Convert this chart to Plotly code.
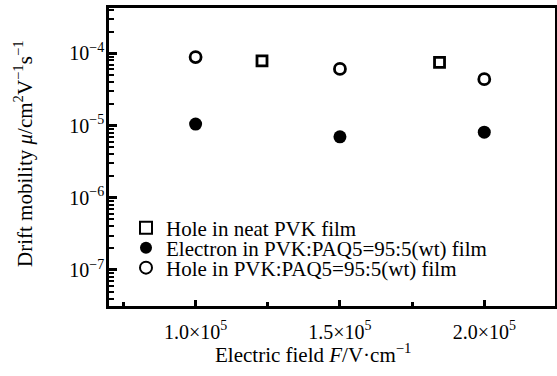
import plotly.graph_objects as go

# Data
field_hole_neat = [1.23e5, 1.845e5]
mob_hole_neat = [7.9e-5, 7.5e-5]

field_electron = [1.0e5, 1.5e5, 2.0e5]
mob_electron = [1.05e-5, 7.0e-6, 8.1e-6]

field_hole_blend = [1.0e5, 1.5e5, 2.0e5]
mob_hole_blend = [8.9e-5, 6.1e-5, 4.4e-5]

x_tickvals = [1.0e5, 1.5e5, 2.0e5]
x_ticktext = ["1.0×10<sup>5</sup>", "1.5×10<sup>5</sup>", "2.0×10<sup>5</sup>"]
y_tickvals = [1e-4, 1e-5, 1e-6, 1e-7]
y_ticktext = ["10<sup>−4</sup>", "10<sup>−5</sup>", "10<sup>−6</sup>", "10<sup>−7</sup>"]

FONT = "Liberation Serif"

FW, FH = 557, 376
L, R, T, B = 109, 555, 8, 306  # plot area in screen pixels
W, H = R - L, B - T

def px_x(x):
    return (x - L) / W

def px_y(y):
    return (B - y) / H

fig = go.Figure()
fig.add_trace(go.Scatter(
    x=field_hole_neat, y=mob_hole_neat, mode="markers", name="Hole in neat PVK film",
    legend="legend",
    marker=dict(symbol="square-open", size=10, color="black", line=dict(width=2.8, color="black"))))
fig.add_trace(go.Scatter(
    x=field_electron, y=mob_electron, mode="markers", name="Electron in PVK:PAQ5=95:5(wt) film",
    legend="legend2",
    marker=dict(symbol="circle", size=13, color="black")))
fig.add_trace(go.Scatter(
    x=field_hole_blend, y=mob_hole_blend, mode="markers", name="Hole in PVK:PAQ5=95:5(wt) film",
    legend="legend3",
    marker=dict(symbol="circle-open", size=11, color="black", line=dict(width=2.8, color="black"))))

minor_y = [m * 10.0 ** e for e in range(-8, -3) for m in range(2, 10)]

def leg(ypx):
    return dict(x=px_x(126), y=px_y(ypx), xanchor="left", yanchor="middle",
                bgcolor="rgba(0,0,0,0)", font=dict(family=FONT, size=21, color="black"),
                itemsizing="constant")

fig.update_layout(
    width=FW, height=FH,
    margin=dict(l=L, r=FW - R, t=T, b=FH - B),
    paper_bgcolor="white", plot_bgcolor="white",
    font=dict(family=FONT, size=20, color="black"),
    showlegend=True,
    legend=leg(228), legend2=leg(248), legend3=leg(268),
    xaxis=dict(range=[0.7e5, 2.245e5], tickvals=x_tickvals, ticktext=x_ticktext,
               ticks="inside", ticklen=6, tickwidth=2.5, tickcolor="black",
               showline=True, linewidth=2.5, linecolor="black", mirror=True,
               showgrid=False, zeroline=False, ticklabelstandoff=6, automargin=False,
               tickfont=dict(family=FONT, size=20),
               minor=dict(tickvals=[0.75e5, 1.25e5, 1.75e5], ticks="inside",
                          ticklen=4, tickwidth=2.5, tickcolor="black", showgrid=False)),
    yaxis=dict(type="log", range=[-7.50, -3.37], tickvals=y_tickvals, ticktext=y_ticktext,
               ticks="inside", ticklen=8, tickwidth=2.5, tickcolor="black",
               showline=True, linewidth=2.5, linecolor="black", mirror=True,
               showgrid=False, zeroline=False, ticklabelstandoff=-2, automargin=False,
               tickfont=dict(family=FONT, size=20),
               minor=dict(tickvals=minor_y, ticks="inside", ticklen=5, tickwidth=1.5,
                          tickcolor="black", showgrid=False)),
)

fig.add_annotation(text="Electric field <i>F</i>/V·cm<sup>−1</sup>", xref="paper", yref="paper",
                   x=px_x(313), y=px_y(353), xanchor="center", yanchor="middle",
                   showarrow=False, font=dict(family=FONT, size=21))
fig.add_annotation(text="Drift mobility <i>μ</i>/cm<sup>2</sup>V<sup>−1</sup>s<sup>−1</sup>",
                   xref="paper", yref="paper", textangle=-90,
                   x=px_x(23), y=px_y(154), xanchor="center", yanchor="middle",
                   showarrow=False, font=dict(family=FONT, size=21))

fig.write_html("out.html", config={"displayModeBar": False},
               post_script="document.body.style.margin='0';document.body.style.overflow='hidden';")
